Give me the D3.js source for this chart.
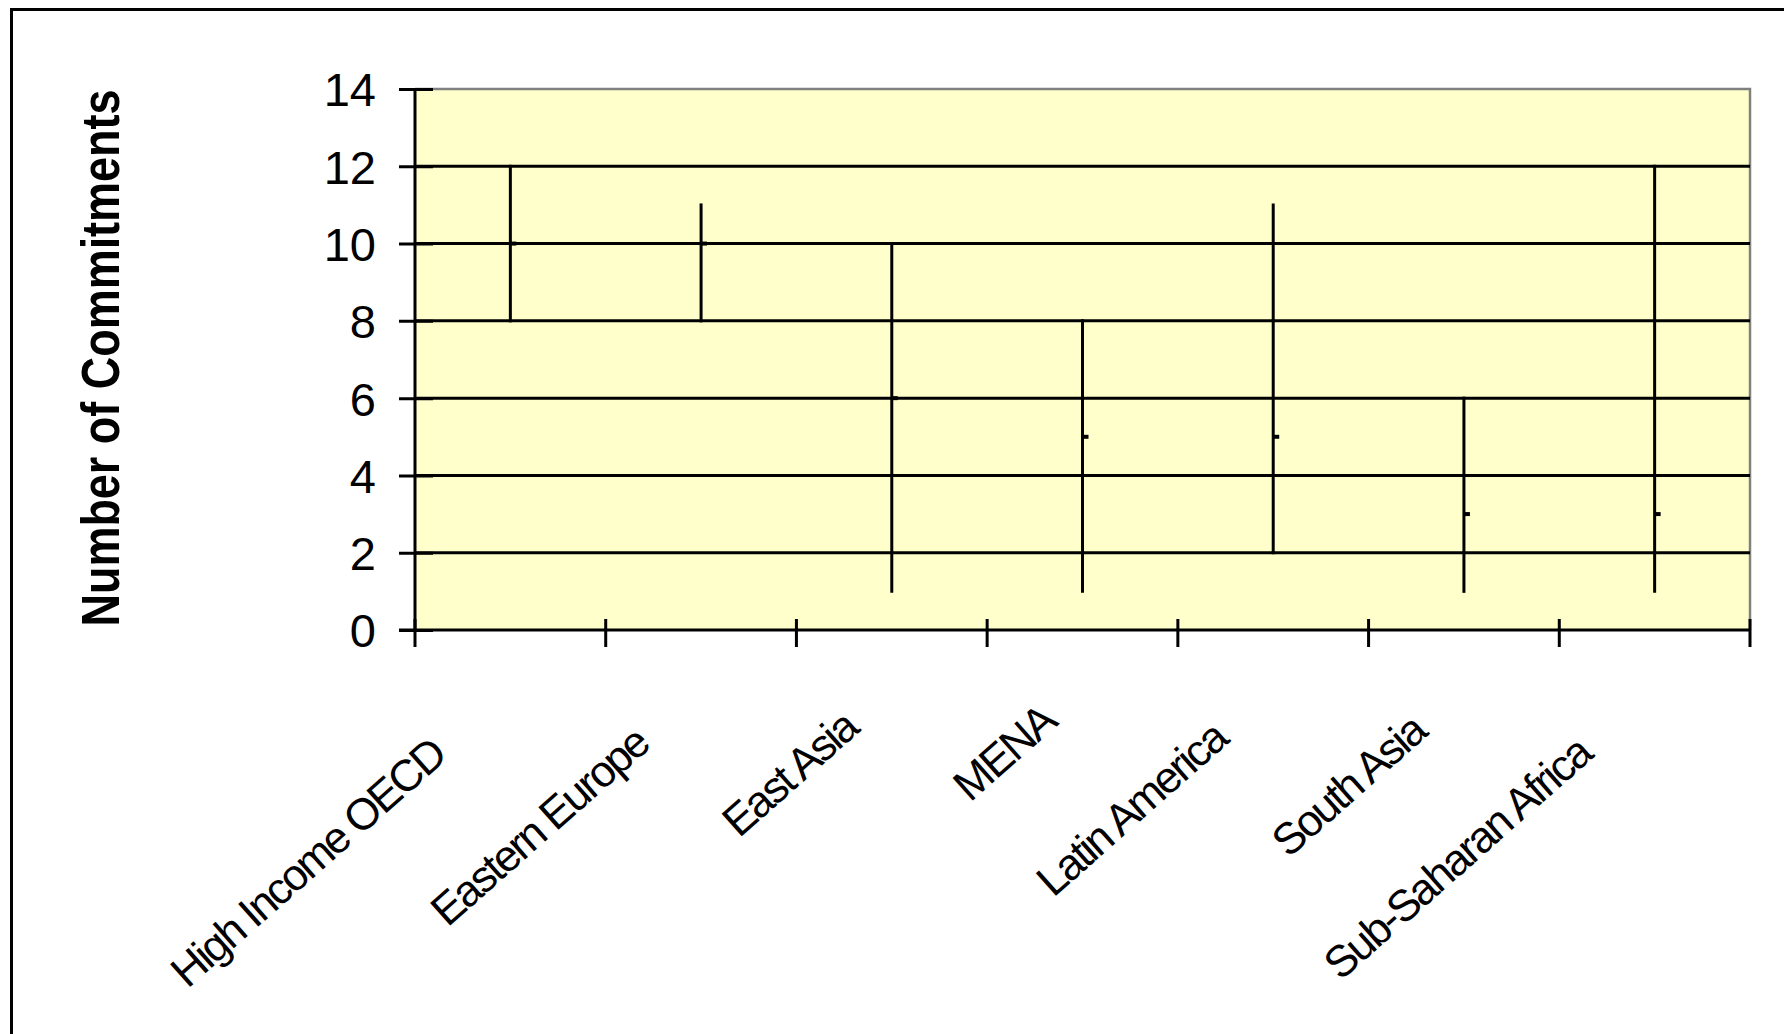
<!DOCTYPE html>
<html>
<head>
<meta charset="utf-8">
<script src="https://cdn.jsdelivr.net/npm/d3@7"></script>
<style>
  html, body { margin: 0; padding: 0; background: #ffffff; }
  svg { display: block; }
  text { font-family: "Liberation Sans", Arial, sans-serif; fill: #000; }
</style>
</head>
<body>
<svg id="chart" width="1784" height="1034"></svg>
<script>
// Regions and the spread of commitments per region (high / low / close)
const regions = ["High Income OECD", "Eastern Europe", "East Asia", "MENA",
                 "Latin America", "South Asia", "Sub-Saharan Africa"];
const highValues  = [12, 11, 10, 8, 11, 6, 12];
const lowValues   = [8, 8, 1, 1, 2, 1, 1];
const closeValues = [10, 10, 6, 5, 5, 3, 3];
const yTicks = [0, 2, 4, 6, 8, 10, 12, 14];
const yTitle = "Number of Commitments";

const svg = d3.select("#chart");
const W = 1784, H = 1034;
const plot = { left: 415, right: 1750, top: 89, bottom: 630 };

// outer frame (left and top edges visible, rest runs off the canvas)
svg.append("rect")
  .attr("x", 11.5).attr("y", 9.5)
  .attr("width", W + 20).attr("height", H + 20)
  .attr("fill", "#fff").attr("stroke", "#000").attr("stroke-width", 3);

const x = d3.scaleBand().domain(regions).range([plot.left, plot.right]).padding(0);
const y = d3.scaleLinear().domain([0, 14]).range([plot.bottom, plot.top]);

// plot background
svg.append("rect")
  .attr("x", plot.left).attr("y", plot.top)
  .attr("width", plot.right - plot.left).attr("height", plot.bottom - plot.top)
  .attr("fill", "#FFFFCC");

// top and right edges of plot area
svg.append("path")
  .attr("d", `M${plot.left},${y(14)}H${plot.right}V${plot.bottom}`)
  .attr("fill", "none").attr("stroke", "#808080").attr("stroke-width", 2.5);

// horizontal gridlines
svg.append("g").selectAll("line")
  .data(yTicks.filter(v => v > 0 && v < 14))
  .join("line")
  .attr("x1", plot.left).attr("x2", plot.right)
  .attr("y1", d => y(d)).attr("y2", d => y(d))
  .attr("stroke", "#000").attr("stroke-width", 3);

// y axis
const yAxis = svg.append("g")
  .attr("transform", `translate(${plot.left},0)`)
  .call(d3.axisLeft(y).tickValues(yTicks).tickSize(16).tickPadding(23).tickFormat(d3.format("d")));
yAxis.select(".domain").attr("stroke", "#000").attr("stroke-width", 3)
  .attr("d", `M0,${plot.top}V${plot.bottom}`);
yAxis.selectAll(".tick line").attr("stroke", "#000").attr("stroke-width", 3)
  .attr("x1", 18).attr("x2", -16);
yAxis.selectAll(".tick text")
  .style("font-size", "47px").attr("dy", "0.36em").attr("fill", "#000");

// x axis
const xAxis = svg.append("g")
  .attr("transform", `translate(0,${plot.bottom})`)
  .call(d3.axisBottom(x).tickSize(17));
xAxis.select(".domain").attr("stroke", "#000").attr("stroke-width", 3)
  .attr("d", `M${plot.left - 16},0H${plot.right}`);
xAxis.selectAll(".tick line").remove();
// category boundary ticks (crossing the axis)
const bounds = regions.map(r => x(r)).concat([x(regions[regions.length - 1]) + x.bandwidth()]);
xAxis.append("g").selectAll("line")
  .data(bounds).join("line")
  .attr("x1", d => d).attr("x2", d => d)
  .attr("y1", -11).attr("y2", 17)
  .attr("stroke", "#000").attr("stroke-width", 3);

// rotated category labels
xAxis.selectAll(".tick text")
  .attr("text-anchor", "end")
  .attr("y", 0).attr("dy", 0)
  .style("font-size", "44px")
  .style("letter-spacing", "-2.4px")
  .attr("fill", "#000")
  .each(function () {
    const len = this.getComputedTextLength();
    d3.select(this)
      .attr("x", -0.22 * len)
      .attr("transform", "translate(-5,78) rotate(-41.5)");
  });

// high-low lines
const data = regions.map((r, i) => ({ r, hi: highValues[i], lo: lowValues[i], cl: closeValues[i] }));
const cx = d => x(d.r) + x.bandwidth() / 2;
svg.append("g").selectAll("line")
  .data(data).join("line")
  .attr("x1", cx).attr("x2", cx)
  .attr("y1", d => y(d.hi)).attr("y2", d => y(d.lo))
  .attr("stroke", "#000").attr("stroke-width", 3).attr("stroke-linecap", "square");

// close ticks
svg.append("g").selectAll("line")
  .data(data).join("line")
  .attr("x1", cx).attr("x2", d => cx(d) + 6)
  .attr("y1", d => y(d.cl)).attr("y2", d => y(d.cl))
  .attr("stroke", "#000").attr("stroke-width", 4);

// y axis title
svg.append("text")
  .attr("transform", "translate(119,358) rotate(-90)")
  .attr("text-anchor", "middle")
  .attr("textLength", 537).attr("lengthAdjust", "spacingAndGlyphs")
  .style("font-size", "54px").style("font-weight", "bold")
  .text(yTitle);
</script>
</body>
</html>
